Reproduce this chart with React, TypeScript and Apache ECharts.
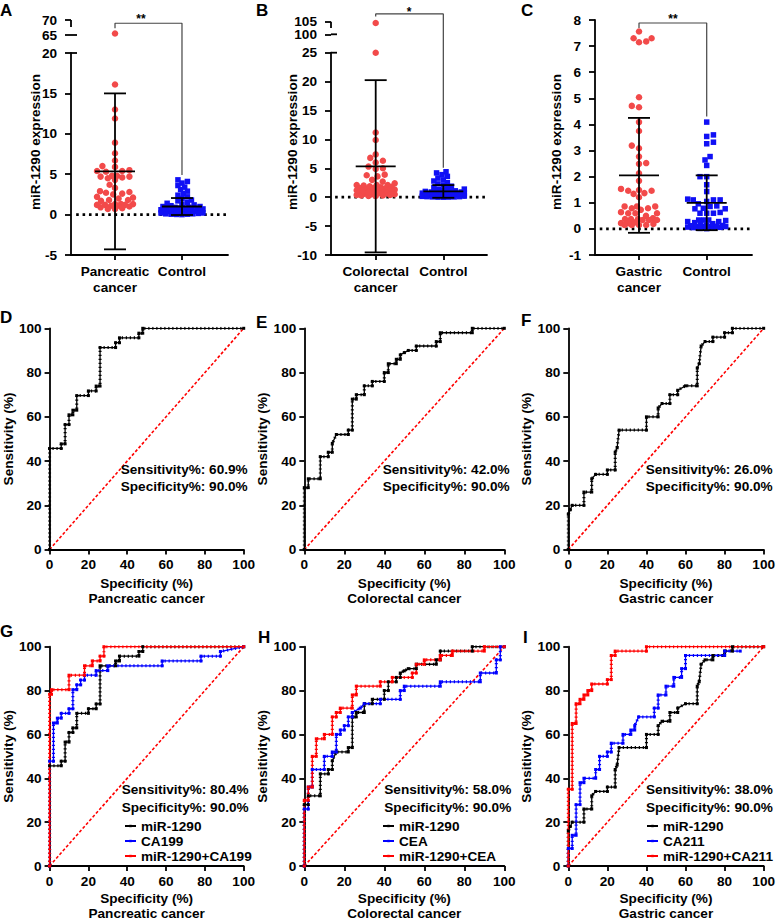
import React, { useEffect, useRef } from "react";
import * as echarts from "echarts";

const FONT = 'Arial, "Liberation Sans", Helvetica, sans-serif';
const FS = 13.6;

// ---------------- Panels A–C (scatter, mean ± SD) ----------------
const groupsA = ["Pancreatic\ncancer", "Control"];
const pancreaticA = [65.5, 16.1, 13.0, 11.9, 8.9, 7.6, 6.7, 6.0, 5.9, 5.5, 5.4, 5.4, 5.3, 4.8, 4.8, 4.7, 4.7, 4.6, 4.5, 4.3, 3.7, 3.3, 2.9, 2.8, 2.7, 2.6, 2.5, 2.2, 2.1, 2.0, 1.8, 1.8, 1.7, 1.3, 1.3, 1.3, 1.2, 1.2, 1.2, 1.1, 1.1, 1.0, 0.9, 0.8, 0.7, 0.7];
const controlA = [4.3, 4.1, 3.9, 3.6, 3.4, 3.1, 2.9, 2.6, 2.4, 2.2, 2.0, 1.8, 1.7, 1.5, 1.4, 1.3, 1.2, 1.1, 1.0, 1.0, 0.9, 0.9, 0.8, 0.8, 0.8, 0.7, 0.7, 0.7, 0.6, 0.6, 0.6, 0.5, 0.5, 0.5, 0.4, 0.4, 0.4, 0.3, 0.3, 0.3, 0.2, 0.2, 0.2, 0.15, 0.1, 0.1, 0.05, 0.05, 0.02, 0.0];
const meanA = [5.35, 1.0];
const sdA = [9.65, 1.05];
const bracketA = [[1, 23.06], [1, 23.68], [2, 23.68], [2, 4.9]];

const groupsB = ["Colorectal\ncancer", "Control"];
const colorectalB = [104.5, 25.0, 11.2, 9.9, 7.4, 6.8, 6.3, 6.0, 5.3, 5.0, 4.9, 3.9, 3.8, 3.6, 3.0, 2.7, 2.4, 2.1, 2.1, 2.1, 2.0, 1.8, 1.6, 1.6, 1.5, 1.4, 1.3, 1.3, 1.2, 1.2, 1.1, 1.0, 1.0, 0.9, 0.8, 0.7, 0.7, 0.6, 0.5, 0.5, 0.4, 0.4, 0.3, 0.3, 0.2, 0.2, 1.9, 1.7, 1.1, 0.9];
const controlB = [4.4, 4.2, 3.9, 3.6, 3.3, 3.0, 2.8, 2.5, 2.3, 2.1, 1.9, 1.7, 1.5, 1.4, 1.3, 1.2, 1.1, 1.0, 1.0, 0.9, 0.9, 0.8, 0.8, 0.8, 0.7, 0.7, 0.7, 0.6, 0.6, 0.6, 0.5, 0.5, 0.5, 0.4, 0.4, 0.4, 0.3, 0.3, 0.3, 0.25, 0.2, 0.2, 0.15, 0.1, 0.1, 0.05, 0.05, 0.02, 0.01, 0.0];
const meanB = [5.35, 1.0];
const sdB = [14.9, 1.1];
const bracketB = [[1, 31.27], [1, 31.7], [2, 31.7], [2, 5.1]];
const upperTicksB = [100, 105];

const groupsC = ["Gastric\ncancer", "Control"];
const gastricC = [7.56, 7.3, 7.15, 7.18, 7.3, 5.04, 4.66, 4.71, 4.09, 3.75, 3.19, 3.09, 2.77, 2.52, 2.49, 2.13, 1.84, 1.46, 1.46, 1.53, 1.49, 1.34, 1.37, 1.21, 0.86, 0.73, 0.79, 0.79, 0.86, 0.86, 0.64, 0.6, 0.6, 0.6, 0.5, 0.38, 0.38, 0.34, 0.41, 0.34, 0.34, 0.38, 0.15, 0.22, 0.15, 0.22, 0.15, 0.19, 0.15, 0.25];
const controlC = [4.09, 3.6, 3.54, 3.32, 3.26, 2.77, 2.64, 2.43, 2.0, 2.0, 1.69, 1.43, 1.14, 1.11, 1.11, 1.11, 1.05, 0.96, 0.88, 0.86, 0.77, 0.77, 0.79, 0.6, 0.6, 0.63, 0.6, 0.34, 0.28, 0.34, 0.24, 0.32, 0.34, 0.28, 0.13, 0.09, 0.09, 0.05, 0.09, 0.06, 0.09, 0.15, 0.01, 0.02, 0.04, 0.12, 0.18, 0.2, 0.07, 0.1];
const meanC = [2.05, 1.0];
const sdC = [2.2, 1.05];
const bracketC = [[1, 7.69], [1, 7.885], [2, 7.885], [2, 4.3]];

// ---------------- ROC curves: [Specificity axis %, Sensitivity %] ----------------
const rocPancMiR = [[0, 0], [0, 45.7], [6, 45.7], [6, 47.8], [8, 47.8], [8, 56.5], [10, 56.5], [10, 60.9], [12, 60.9], [12, 63], [14, 63], [14, 69.6], [20, 69.6], [20, 71.7], [24, 71.7], [24, 73.9], [26, 73.9], [26, 91.3], [34, 91.3], [34, 93.5], [36, 93.5], [36, 95.7], [46, 95.7], [46, 97.8], [48, 97.8], [48, 100], [100, 100]];
const rocPancCA199 = [[0, 0], [0, 47.8], [2, 47.8], [2, 65.2], [4, 65.2], [4, 67.4], [6, 67.4], [6, 69.6], [10, 69.6], [10, 71.7], [12, 71.7], [12, 80.4], [14, 80.4], [14, 82.6], [16, 82.6], [16, 84.8], [18, 84.8], [18, 87], [24, 87], [24, 89.1], [30, 89.1], [30, 91.3], [58, 91.3], [58, 93.5], [78, 93.5], [78, 95.7], [88, 95.7], [88, 97.8], [100, 100]];
const rocPancComb = [[0, 0], [0, 78.3], [1, 78.3], [1, 80.4], [10, 80.4], [10, 87], [18, 87], [18, 91.3], [22, 91.3], [22, 93.5], [26, 93.5], [26, 95.7], [28, 95.7], [28, 100], [100, 100]];

const rocColoMiR = [[0, 0], [0, 28], [2, 28], [2, 32], [8, 32], [8, 42], [12, 42], [12, 44], [14, 44], [14, 48], [16, 52], [22, 52], [22, 54], [24, 54], [24, 68], [26, 68], [26, 70], [30, 70], [30, 74], [34, 74], [34, 76], [40, 76], [40, 80], [42, 80], [42, 84], [46, 84], [46, 86], [48, 86], [48, 88], [50, 89], [52, 90], [56, 90], [56, 92], [66, 92], [66, 94], [68, 94], [68, 98], [84, 98], [84, 100], [100, 100]];
const rocColoCEA = [[0, 0], [0, 26], [2, 26], [2, 36], [4, 36], [4, 44], [10, 44], [10, 50], [14, 50], [14, 52], [16, 52], [16, 60], [18, 60], [18, 62], [20, 62], [20, 64], [22, 64], [22, 68], [24, 68], [24, 70], [28, 72], [30, 74], [38, 74], [38, 76], [48, 76], [48, 80], [50, 80], [50, 82], [68, 82], [68, 84], [88, 84], [88, 88], [96, 88], [96, 94], [98, 94], [98, 100], [100, 100]];
const rocColoComb = [[0, 0], [0, 30], [2, 30], [2, 36], [4, 36], [4, 50], [6, 50], [6, 58], [10, 58], [10, 60], [14, 60], [14, 68], [16, 68], [16, 70], [18, 70], [18, 72], [24, 72], [24, 78], [26, 78], [26, 82], [38, 82], [38, 84], [44, 84], [44, 86], [54, 86], [54, 88], [56, 88], [56, 92], [60, 92], [60, 94], [68, 94], [68, 96], [74, 96], [74, 98], [90, 98], [90, 100], [100, 100]];

const rocGastMiR = [[0, 0], [0, 16], [1, 18], [2, 20], [8, 20], [8, 26], [12, 26], [12, 32], [14, 34], [20, 34], [20, 36], [24, 36], [24, 44], [25, 46], [26, 54], [40, 54], [40, 60], [46, 60], [46, 64], [48, 66], [52, 66], [52, 70], [56, 70], [56, 72], [60, 74], [66, 74], [66, 82], [67, 84], [68, 92], [70, 94], [74, 94], [74, 96], [80, 96], [80, 98], [84, 98], [84, 100], [100, 100]];
const rocGastCA211 = [[0, 0], [0, 8], [2, 8], [2, 14], [4, 14], [4, 28], [6, 28], [6, 38], [8, 38], [8, 40], [14, 40], [14, 44], [16, 44], [16, 50], [20, 50], [20, 52], [22, 52], [22, 56], [28, 56], [28, 60], [32, 60], [32, 62], [34, 62], [34, 64], [36, 68], [44, 68], [44, 72], [46, 72], [46, 78], [50, 78], [50, 82], [54, 82], [54, 86], [58, 86], [58, 90], [60, 90], [60, 96], [80, 96], [80, 98], [88, 98]];
const rocGastComb = [[0, 0], [0, 35], [2, 35], [2, 65], [4, 65], [4, 74], [6, 74], [6, 76], [8, 76], [8, 78], [10, 78], [10, 80], [12, 80], [12, 83], [20, 83], [20, 85], [22, 85], [22, 96], [24, 96], [24, 98], [40, 98], [40, 100], [100, 100]];

const chanceLine = [[0, 0], [100, 100]];

const cancersROC = ["Pancreatic cancer", "Colorectal cancer", "Gastric cancer"];
const sensSingle = ["60.9%", "42.0%", "26.0%"];
const sensCombined = ["80.4%", "58.0%", "38.0%"];
const specAll = ["90.0%", "90.0%", "90.0%"];
const markerNames = ["CA199", "CEA", "CA211"];

// ---------------- helpers ----------------
const RED_DOT = "#f24a4a";
const BLUE_SQ = "#1010f5";

// deterministic beeswarm layout (pixel space), limited to +-maxHalf px
function swarm(values: number[], center: number, pxPerY: number, pxPerX: number, d: number, maxHalf: number) {
  const order = values.map((_, i) => i).sort((a, b) => values[a] - values[b]);
  const placed: [number, number][] = [];
  const res: number[][] = new Array(values.length);
  for (const i of order) {
    const py = values[i] * pxPerY;
    const flip = placed.length % 2 === 0 ? 1 : -1;
    let best = NaN;
    for (let k = 0; k < 600; k++) {
      const step = Math.ceil(k / 2) * d * 0.3;
      const cand = (k % 2 === 1 ? step : -step) * flip;
      if (Math.abs(cand) > maxHalf) break;
      let ok = true;
      for (const [qx, qy] of placed) {
        if ((qx - cand) ** 2 + (qy - py) ** 2 < d * d) { ok = false; break; }
      }
      if (ok) { best = cand; break; }
    }
    if (isNaN(best)) {
      let bestScore = -1;
      for (let j = 0; j <= 2 * maxHalf; j++) {
        const c = (j % 2 ? 1 : -1) * flip * Math.ceil(j / 2);
        let mn = Infinity;
        for (const [qx, qy] of placed) {
          const dd = (qx - c) ** 2 + (qy - py) ** 2;
          if (dd < mn) mn = dd;
        }
        if (mn > bestScore + 1e-6) { bestScore = mn; best = c; }
      }
    }
    placed.push([best, py]);
    res[i] = [center + best / pxPerX, values[i]];
  }
  return res;
}

const axisLineStyle = { color: "#000", width: 1.8 };
const labelStyle = { color: "#000", fontWeight: "bold" as const, fontSize: FS, fontFamily: FONT };

function catXAxis(gridIndex: number, min: number, max: number, cats: string[], show = true) {
  return {
    type: "value", gridIndex, min, max, show,
    axisLine: { show: true, onZero: false, lineStyle: axisLineStyle },
    axisTick: { show: true, length: 5, customValues: [1, 2], lineStyle: axisLineStyle },
    axisLabel: {
      ...labelStyle, customValues: [1, 2], lineHeight: 16, margin: 8, hideOverlap: false,
      formatter: (v: number) => cats[Math.round(v) - 1] ?? "",
    },
    splitLine: { show: false },
  };
}

function valYAxis(gridIndex: number, min: number, max: number, interval: number, showLine = true, showLabel = true) {
  return {
    type: "value", gridIndex, min, max, interval,
    axisLine: { show: showLine, onZero: false, lineStyle: axisLineStyle },
    axisTick: { show: true, length: 6, lineStyle: axisLineStyle },
    axisLabel: { ...labelStyle, show: showLabel, margin: 14, hideOverlap: false, showMinLabel: true, showMaxLabel: true },
    splitLine: { show: false },
  };
}

function errorBars(g: number, means: number[], sds: number[], hw: number, cw: number) {
  return {
    type: "custom", xAxisIndex: g, yAxisIndex: g, z: 6, silent: true,
    encode: { x: 0, y: 1 },
    data: means.map((m, i) => [i + 1, m, sds[i]]),
    renderItem: (_p: any, api: any) => {
      const x = api.value(0), m = api.value(1), s = api.value(2);
      const c = api.coord([x, m]);
      const t = api.coord([x, m + s]);
      const b = api.coord([x, m - s]);
      const st = { stroke: "#000", lineWidth: 1.8 };
      return {
        type: "group",
        children: [
          { type: "line", shape: { x1: c[0], y1: t[1], x2: c[0], y2: b[1] }, style: st },
          { type: "line", shape: { x1: c[0] - hw, y1: c[1], x2: c[0] + hw, y2: c[1] }, style: st },
          { type: "line", shape: { x1: c[0] - cw, y1: t[1], x2: c[0] + cw, y2: t[1] }, style: st },
          { type: "line", shape: { x1: c[0] - cw, y1: b[1], x2: c[0] + cw, y2: b[1] }, style: st },
        ],
      };
    },
  };
}

function scatter(g: number, data: number[][], color: string, symbol: string, size: number) {
  return {
    type: "scatter", xAxisIndex: g, yAxisIndex: g, data, symbol, symbolSize: size, clip: false,
    itemStyle: { color, opacity: 1 }, z: 3, silent: true,
  };
}

function lineSeries(g: number, data: number[][], color: string, width: number, type: any, extra: any = {}) {
  return {
    type: "line", xAxisIndex: g, yAxisIndex: g, data, symbol: "none", showSymbol: false,
    lineStyle: { color, width, type }, silent: true, z: 2, ...extra,
  };
}

// dotted reference line at y = 0 between x0 and x1
function zeroLine(g: number, x0: number, x1: number) {
  return {
    type: "custom", xAxisIndex: g, yAxisIndex: g, z: 2, silent: true,
    encode: { x: [0, 1] },
    data: [[x0, x1]],
    renderItem: (_p: any, api: any) => {
      const a = api.coord([api.value(0), 0]);
      const b = api.coord([api.value(1), 0]);
      return {
        type: "line",
        shape: { x1: a[0], y1: a[1], x2: b[0], y2: b[1] },
        style: { stroke: "#000", lineWidth: 2.8, lineDash: [2.6, 3.8] },
      };
    },
  };
}

function rocSeries(g: number, data: number[][], color: string, name?: string) {
  return [
    {
      type: "line", name, xAxisIndex: g, yAxisIndex: g, data, symbol: "rect", symbolSize: 3,
      showSymbol: true, lineStyle: { color, width: 1.3 }, itemStyle: { color }, z: 4, silent: true,
    },
    {
      type: "line", xAxisIndex: g, yAxisIndex: g, data, symbol: "none", showSymbol: false,
      lineStyle: { color, width: 3, type: [1.2, 2.8] }, z: 4, silent: true,
    },
  ];
}

function rocAxes(g: number, cancer: string, yGap: number, xGap: number) {
  return {
    x: {
      type: "value", gridIndex: g, min: 0, max: 100, interval: 20,
      axisLine: { show: true, onZero: false, lineStyle: axisLineStyle },
      axisTick: { show: true, length: 5, lineStyle: axisLineStyle },
      axisLabel: { ...labelStyle, margin: 8, hideOverlap: false },
      splitLine: { show: false },
      name: "Specificity (%)\n" + cancer, nameLocation: "middle", nameGap: xGap,
      nameTextStyle: { ...labelStyle, lineHeight: 15 },
    },
    y: {
      type: "value", gridIndex: g, min: 0, max: 100, interval: 20,
      axisLine: { show: true, onZero: false, lineStyle: axisLineStyle },
      axisTick: { show: true, length: 5, lineStyle: axisLineStyle },
      axisLabel: { ...labelStyle, margin: 8, hideOverlap: false },
      splitLine: { show: false },
      name: "Sensitivity (%)", nameLocation: "middle", nameGap: yGap,
      nameTextStyle: { ...labelStyle },
    },
  };
}

function txt(text: string, x: number, y: number, opts: any = {}) {
  const style: any = {
    text, fill: "#000", font: `bold ${opts.size ?? FS}px ${FONT}`,
    textAlign: opts.align ?? "left", textVerticalAlign: "middle",
  };
  if (opts.lineHeight) style.lineHeight = opts.lineHeight;
  return { type: "text", x, y, silent: true, rotation: opts.rotation ?? 0, z: 10, style };
}
function seg(x1: number, y1: number, x2: number, y2: number) {
  return { type: "line", silent: true, z: 10, shape: { x1, y1, x2, y2 }, style: { stroke: "#000", lineWidth: 1.8 } };
}

function buildOption() {
  const A = { left: 71, width: 157, lowTop: 53, lowH: 202, upTop: 20, upH: 15, xmin: 0.343, xmax: 2.687 };
  const B = { left: 331, width: 156, lowTop: 52.7, lowH: 202.3, upTop: 21.7, upH: 12.6, xmin: 0.339, xmax: 2.646 };
  const C = { left: 595, width: 157, top: 20, h: 235, xmin: 0.35, xmax: 2.669 };
  const rocLeft = [43.7, 304.3, 568.3];
  const rocTop = [328.3, 646.7];

  const grids: any[] = [
    { left: A.left, top: A.lowTop, width: A.width, height: A.lowH },
    { left: A.left, top: A.upTop, width: A.width, height: A.upH },
    { left: B.left, top: B.lowTop, width: B.width, height: B.lowH },
    { left: B.left, top: B.upTop, width: B.width, height: B.upH },
    { left: C.left, top: C.top, width: C.width, height: C.h },
  ];
  for (let r = 0; r < 2; r++) for (let c = 0; c < 3; c++) grids.push({ left: rocLeft[c], top: rocTop[r], width: 200, height: 221.3 });

  const xAxes: any[] = [
    catXAxis(0, A.xmin, A.xmax, groupsA),
    catXAxis(1, A.xmin, A.xmax, groupsA, false),
    catXAxis(2, B.xmin, B.xmax, groupsB),
    catXAxis(3, B.xmin, B.xmax, groupsB, false),
    catXAxis(4, C.xmin, C.xmax, groupsC),
  ];
  const yAxes: any[] = [
    valYAxis(0, -5, 20, 5),
    valYAxis(1, 65, 70, 5, false),
    valYAxis(2, -10, 25, 5),
    valYAxis(3, upperTicksB[0], upperTicksB[1], 5, false, false),
    valYAxis(4, -1, 8, 1),
  ];
  const yGaps = [27, 29.5, 29.5];
  for (let r = 0; r < 2; r++) for (let c = 0; c < 3; c++) {
    const ax = rocAxes(5 + r * 3 + c, cancersROC[c], yGaps[c], r === 0 ? 26.5 : 25);
    xAxes.push(ax.x);
    yAxes.push(ax.y);
  }

  const series: any[] = [];
  // --- A
  const pxA = A.lowH / 25, pxXA = A.width / (A.xmax - A.xmin);
  const pancLow = pancreaticA.filter((v) => v <= 20), pancHigh = pancreaticA.filter((v) => v > 20);
  series.push(zeroLine(0, 0.42, A.xmax));
  series.push(scatter(0, swarm(pancLow, 1, pxA, pxXA, 6, 18), RED_DOT, "circle", 6.5));
  series.push(scatter(1, pancHigh.map((v) => [1, v]), RED_DOT, "circle", 6.5));
  series.push(scatter(0, swarm(controlA, 2, pxA, pxXA, 4.5, 21), BLUE_SQ, "rect", 5.5));
  series.push(errorBars(0, meanA, sdA, 20, 11));
  series.push(lineSeries(0, bracketA, "#444", 1.2, "solid", { clip: false, z: 7 }));
  // --- B
  const pxB = B.lowH / 35, pxXB = B.width / (B.xmax - B.xmin);
  const coloLow = colorectalB.filter((v) => v <= 25.5), coloHigh = colorectalB.filter((v) => v > 25.5);
  series.push(zeroLine(2, 0.4, B.xmax));
  series.push(scatter(2, swarm(coloLow, 1, pxB, pxXB, 6, 19), RED_DOT, "circle", 6.5));
  series.push(scatter(3, coloHigh.map((v) => [1, v]), RED_DOT, "circle", 6.5));
  series.push(scatter(2, swarm(controlB, 2, pxB, pxXB, 4.5, 21), BLUE_SQ, "rect", 5.5));
  series.push(errorBars(2, meanB, sdB, 20, 11));
  series.push(lineSeries(2, bracketB, "#444", 1.2, "solid", { clip: false, z: 7 }));
  // --- C
  const pxC = C.h / 9, pxXC = C.width / (C.xmax - C.xmin);
  series.push(zeroLine(4, 0.42, C.xmax));
  series.push(scatter(4, swarm(gastricC, 1, pxC, pxXC, 6, 18), RED_DOT, "circle", 6.5));
  series.push(scatter(4, swarm(controlC, 2, pxC, pxXC, 5.6, 19), BLUE_SQ, "rect", 5.5));
  series.push(errorBars(4, meanC, sdC, 20, 11));
  series.push(lineSeries(4, bracketC, "#444", 1.2, "solid", { clip: false, z: 7 }));

  // --- ROC
  const single = [rocPancMiR, rocColoMiR, rocGastMiR];
  const markers = [rocPancCA199, rocColoCEA, rocGastCA211];
  const combos = [rocPancComb, rocColoComb, rocGastComb];
  for (let c = 0; c < 3; c++) {
    const g1 = 5 + c, g2 = 8 + c;
    series.push(lineSeries(g1, chanceLine, "#ff0000", 1.6, [3, 2]));
    series.push(...rocSeries(g1, single[c], "#000"));
    series.push(lineSeries(g2, chanceLine, "#ff0000", 1.6, [3, 2]));
    series.push(...rocSeries(g2, single[c], "#000", "miR-1290"));
    series.push(...rocSeries(g2, markers[c], "#0000ff", markerNames[c]));
    series.push(...rocSeries(g2, combos[c], "#ff0000", "miR-1290+" + markerNames[c]));
  }

  const legendLeft = [124, 382, 646];
  const legends = [0, 1, 2].map((c) => ({
    orient: "vertical", left: legendLeft[c], top: 819,
    data: ["miR-1290", markerNames[c], "miR-1290+" + markerNames[c]],
    itemWidth: 11, itemHeight: 3, itemGap: 1, selectedMode: false, padding: 0,
    textStyle: { ...labelStyle, lineHeight: 14 },
  }));

  const textLeft1 = [120.7, 382.7, 645.7];
  const textLeft2 = [121.7, 384.3, 646];
  const graphic: any[] = [
    txt("A", 0, 10, { size: 17 }), txt("B", 256, 10, { size: 17 }), txt("C", 521, 10, { size: 17 }),
    txt("D", 0, 317.5, { size: 17 }), txt("E", 256, 322.5, { size: 17 }), txt("F", 521, 320, { size: 17 }),
    txt("G", 0, 631, { size: 17 }), txt("H", 258, 637.5, { size: 17 }), txt("I", 523, 637.5, { size: 17 }),
    txt("miR-1290 expression", 35, 142, { rotation: Math.PI / 2, align: "center" }),
    txt("miR-1290 expression", 292, 142, { rotation: Math.PI / 2, align: "center" }),
    txt("miR-1290 expression", 556.7, 142, { rotation: Math.PI / 2, align: "center" }),
    txt("**", 141, 19, { align: "center", size: 12 }),
    txt("*", 409, 12, { align: "center", size: 12 }),
    txt("**", 673, 19, { align: "center", size: 12 }),
    // upper-segment tick labels of panel B
    txt(String(upperTicksB[1]), 317, 21.4, { align: "right", lineHeight: 11 }),
    txt(String(upperTicksB[0]), 317, 34.6, { align: "right", lineHeight: 11 }),
    // broken-axis decorations
    seg(71, 20, 71, 27), seg(71, 35, 77, 35), seg(71, 53, 77, 53),
    seg(331, 21.7, 331, 28), seg(331, 34.3, 337, 34.3), seg(331, 52.7, 337, 52.7),
  ];
  for (let c = 0; c < 3; c++) {
    graphic.push(txt("Sensitivity%: " + sensSingle[c], textLeft1[c], 469.3));
    graphic.push(txt("Specificity%: " + specAll[c], textLeft1[c], 486.7));
    graphic.push(txt("Sensitivity%: " + sensCombined[c], textLeft2[c], 789));
    graphic.push(txt("Specificity%: " + specAll[c], textLeft2[c], 807.7));
  }

  return {
    animation: false,
    backgroundColor: "#ffffff",
    textStyle: { fontFamily: FONT },
    grid: grids,
    xAxis: xAxes,
    yAxis: yAxes,
    legend: legends,
    series,
    graphic,
  };
}

export default function App() {
  const ref = useRef<HTMLDivElement>(null);
  useEffect(() => {
    const chart = echarts.init(ref.current!, null, { renderer: "svg" });
    chart.setOption(buildOption() as any);
    return () => chart.dispose();
  }, []);
  return (
    <div
      ref={ref}
      style={{ position: "absolute", left: 0, top: 0, width: 778, height: 922, background: "#fff" }}
    />
  );
}
